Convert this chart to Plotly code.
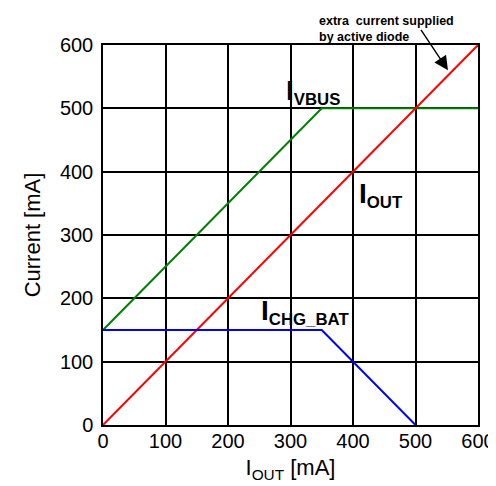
import plotly.graph_objects as go

# series data (mA)
i_out_x = [0, 600]
i_out_y = [0, 600]
i_vbus_x = [0, 350, 600]
i_vbus_y = [150, 500, 500]
i_chg_x = [0, 350, 500]
i_chg_y = [150, 150, 0]
ticks = [0, 100, 200, 300, 400, 500, 600]

FONT = 'Liberation Sans, Arial'

fig = go.Figure()
fig.add_trace(go.Scatter(x=i_vbus_x, y=i_vbus_y, mode='lines',
                         line=dict(color='#008000', width=2)))
fig.add_trace(go.Scatter(x=i_out_x, y=i_out_y, mode='lines',
                         line=dict(color='#ff0000', width=2)))
fig.add_trace(go.Scatter(x=i_chg_x, y=i_chg_y, mode='lines',
                         line=dict(color='#0000ff', width=2)))


def curr_label(sub):
    return '<b><span style="font-size:28px">I</span><sub>' + sub + '</sub></b>'


label_font = dict(family=FONT, size=24, color='black')
fig.add_annotation(x=336, y=526, text=curr_label('VBUS'), showarrow=False, font=label_font)
fig.add_annotation(x=445, y=363, text=curr_label('OUT'), showarrow=False, font=label_font)
fig.add_annotation(x=323, y=178, text=curr_label('CHG_BAT'), showarrow=False, font=label_font)

# arrow note
fig.add_annotation(x=552, y=560, ax=-28, ay=-42,
                   text='', showarrow=True, arrowhead=2, arrowsize=2,
                   arrowwidth=1.4, arrowcolor='black')
fig.add_annotation(x=0.571, y=1.087, xref='paper', yref='paper', xanchor='left', yanchor='top',
                   align='left', showarrow=False,
                   text='<b>extra  current supplied<br>by active diode</b>',
                   font=dict(family=FONT, size=12.5, color='black'))

axis_common = dict(range=[0, 600], tickvals=ticks, showgrid=True, gridcolor='black',
                   gridwidth=1.5, showline=True, linecolor='black', linewidth=1.5,
                   mirror=True, zeroline=False, ticks='', automargin=False,
                   tickfont=dict(family=FONT, size=20, color='black'))

# page body has an 8px margin, so the figure is sized to fit the window
fig.update_layout(
    width=488, height=478,
    margin=dict(l=95, r=18, t=37, b=61),
    plot_bgcolor='white', paper_bgcolor='white',
    showlegend=False,
    xaxis=dict(**axis_common, ticklabelstandoff=-3,
               title=dict(text='I<sub>OUT</sub> [mA]', standoff=9,
                          font=dict(family=FONT, size=22, color='black'))),
    yaxis=dict(**axis_common, ticklabelstandoff=4,
               title=dict(text='Current [mA]', standoff=13,
                          font=dict(family=FONT, size=22, color='black'))),
)

fig.write_html("out.html")
